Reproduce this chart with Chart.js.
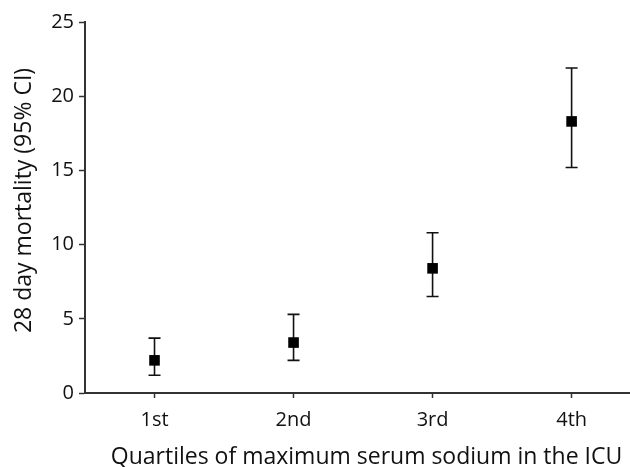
<!DOCTYPE html>
<html>
<head>
<meta charset="utf-8">
<script src="https://cdn.jsdelivr.net/npm/chart.js@4/dist/chart.umd.min.js"></script>
<style>
  html, body { margin: 0; padding: 0; background: #fff; }
  #wrap { width: 630px; height: 467px; }
</style>
</head>
<body>
<div id="wrap"><canvas id="chart"></canvas></div>
<script>
// quartile labels and the values
const quartiles = ["1st", "2nd", "3rd", "4th"];
const mortality = [2.2, 3.4, 8.4, 18.3];
const ciLower = [1.2, 2.2, 6.5, 15.2];
const ciUpper = [3.7, 5.3, 10.8, 21.9];
const yTicks = [0, 5, 10, 15, 20, 25];

const xTitle = "Quartiles of maximum serum sodium in the ICU";
const yTitle = "28 day mortality (95% CI)";

const FONT = "'Open Sans', sans-serif";
const INK = "#111";
const AXIS = "#333";

// draws the 95% CI whiskers through the chart scales
const errorBars = {
  id: "errorBars",
  beforeDatasetsDraw(chart) {
    const ctx = chart.ctx;
    const xs = chart.scales.x;
    const ys = chart.scales.y;
    ctx.save();
    ctx.strokeStyle = INK;
    ctx.lineWidth = 1.6;
    quartiles.forEach((q, i) => {
      const x = xs.getPixelForValue(i + 1);
      const top = ys.getPixelForValue(ciUpper[i]);
      const bot = ys.getPixelForValue(ciLower[i]);
      ctx.beginPath();
      ctx.moveTo(x, top);
      ctx.lineTo(x, bot);
      ctx.moveTo(x - 6, top);
      ctx.lineTo(x + 6, top);
      ctx.moveTo(x - 6, bot);
      ctx.lineTo(x + 6, bot);
      ctx.stroke();
    });
    ctx.restore();
  }
};

// axis titles, a bit off the chart-area centre like the original
const axisTitles = {
  id: "axisTitles",
  afterDraw(chart) {
    const ctx = chart.ctx;
    const area = chart.chartArea;
    ctx.save();
    ctx.fillStyle = INK;
    ctx.font = "23px " + FONT;
    ctx.textAlign = "center";
    ctx.textBaseline = "middle";
    ctx.fillText(xTitle, (area.left + area.right) / 2 + 9, chart.height - 9.5);
    ctx.translate(24.5, (area.top + area.bottom) / 2 - 7);
    ctx.rotate(-Math.PI / 2);
    ctx.fillText(yTitle, 0, 0);
    ctx.restore();
  }
};

new Chart(document.getElementById("chart"), {
  type: "scatter",
  data: {
    datasets: [{
      data: mortality.map((v, i) => ({ x: i + 1, y: v })),
      pointStyle: "rect",
      pointRadius: 7.5,
      pointHoverRadius: 7.5,
      backgroundColor: "#000",
      borderColor: "#000",
      borderWidth: 0
    }]
  },
  options: {
    responsive: true,
    maintainAspectRatio: false,
    animation: false,
    events: [],
    layout: {
      autoPadding: false,
      padding: { top: 22, right: 0, left: 0, bottom: 0 }
    },
    plugins: {
      legend: { display: false },
      tooltip: { enabled: false }
    },
    scales: {
      x: {
        type: "linear",
        min: 0.5,
        max: 4.42,
        afterBuildTicks: (scale) => {
          scale.ticks = quartiles.map((q, i) => ({ value: i + 1 }));
        },
        afterFit: (scale) => {
          scale.height = 74;
          scale.paddingLeft = 0;
          scale.paddingRight = 0;
        },
        grid: {
          drawOnChartArea: false,
          drawTicks: true,
          tickLength: 5,
          tickColor: AXIS,
          tickWidth: 1.5
        },
        border: { color: AXIS, width: 2 },
        ticks: {
          color: INK,
          font: { family: FONT, size: 20 },
          padding: 10,
          callback: (v) => quartiles[v - 1] || ""
        }
      },
      y: {
        min: 0,
        max: 25,
        afterBuildTicks: (scale) => {
          scale.ticks = yTicks.map((v) => ({ value: v }));
        },
        afterFit: (scale) => { scale.width = 85; },
        grid: {
          drawOnChartArea: false,
          drawTicks: true,
          tickLength: 6,
          tickColor: AXIS,
          tickWidth: 1.5
        },
        border: { color: AXIS, width: 2 },
        ticks: {
          color: INK,
          font: { family: FONT, size: 20 },
          padding: 5
        }
      }
    }
  },
  plugins: [errorBars, axisTitles]
});
</script>
</body>
</html>
